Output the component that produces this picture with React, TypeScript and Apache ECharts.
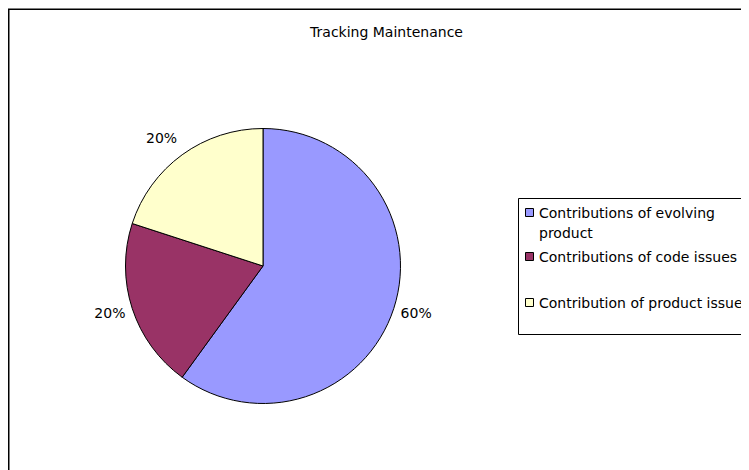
import React, { useEffect, useRef } from "react";
import * as echarts from "echarts";

const chartTitle = "Tracking Maintenance";
const categories = [
  "Contributions of evolving product",
  "Contributions of code issues",
  "Contribution of product issues",
];
const values = [60, 20, 20];
const colors = ["#9999FF", "#993366", "#FFFFCC"];

const FONT = "DejaVu Sans";

export default function App() {
  const ref = useRef<HTMLDivElement>(null);
  useEffect(() => {
    if (!ref.current) return;
    const chart = echarts.init(ref.current, null, { renderer: "svg" });
    const total = values.reduce((a, b) => a + b, 0);

    // legend layout (div coordinates)
    const legendLineY = [205, 249, 295];
    const legendElems: any[] = [];
    categories.forEach((name, i) => {
      const text = name.replace(/ (product)$/, "\n$1");
      legendElems.push({
        type: "rect",
        shape: { x: 517.5, y: legendLineY[i] - 4.5, width: 8, height: 8 },
        style: { fill: colors[i], stroke: "#000", lineWidth: 1 },
        silent: true,
      });
      legendElems.push({
        type: "text",
        x: 531,
        y: legendLineY[i] - 10,
        style: {
          text,
          fontFamily: FONT,
          fontSize: 14,
          lineHeight: 20,
          fill: "#000",
          textAlign: "left",
          textVerticalAlign: "top",
        },
        silent: true,
      });
    });

    chart.setOption({
      animation: false,
      backgroundColor: "#fff",
      title: {
        text: chartTitle,
        left: 378.5,
        top: 17,
        textAlign: "center",
        padding: 0,
        textStyle: { fontFamily: FONT, fontSize: 14, fontWeight: "normal", color: "#000" },
      },
      graphic: [
        {
          type: "rect",
          shape: { x: 0.75, y: 1.25, width: 800, height: 500 },
          style: { fill: "none", stroke: "#000", lineWidth: 1.5 },
          silent: true,
          z: 100,
        },
        {
          type: "rect",
          shape: { x: 510.5, y: 190.5, width: 300, height: 136 },
          style: { fill: "#fff", stroke: "#000", lineWidth: 1 },
          silent: true,
        },
        ...legendElems,
      ],
      series: [
        {
          type: "pie",
          center: [255, 258],
          radius: 137.5,
          startAngle: 90,
          clockwise: true,
          avoidLabelOverlap: false,
          itemStyle: { borderColor: "#000", borderWidth: 1 },
          label: {
            show: true,
            position: "outside",
            formatter: (p: any) => Math.round((p.value / total) * 100) + "%",
            fontFamily: FONT,
            fontSize: 14,
            color: "#000",
            distanceToLabelLine: 5,
          },
          labelLine: { show: false, length: 14.5, length2: -12 },
          emphasis: { disabled: true },
          data: categories.map((name, i) => ({
            name,
            value: values[i],
            itemStyle: { color: colors[i] },
            labelLine: { show: false, length: i === 2 ? 20.5 : 14.5, length2: -12 },
          })),
        },
      ],
    });
    return () => chart.dispose();
  }, []);
  return <div ref={ref} style={{ width: 741, height: 462 }} />;
}
